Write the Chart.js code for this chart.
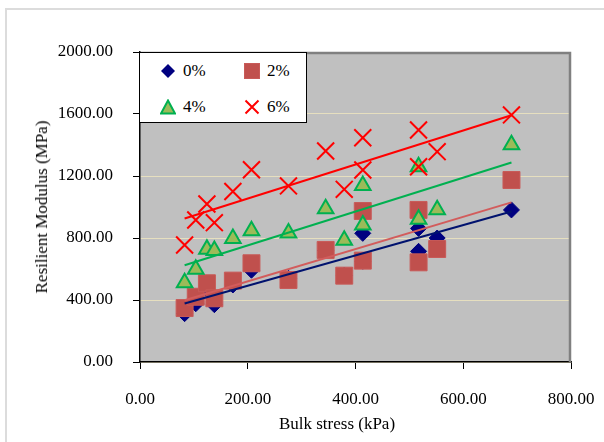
<!DOCTYPE html>
<html>
<head>
<meta charset="utf-8">
<script src="https://cdn.jsdelivr.net/npm/chart.js@4/dist/chart.umd.min.js"></script>
<style>
  html, body { margin: 0; padding: 0; background: #fff; }
  #wrap { position: relative; width: 604px; height: 442px; overflow: hidden; font-family: "Liberation Serif", "Times New Roman", serif; }
  #frame { position: absolute; left: 5px; top: 8px; width: 620px; height: 460px; border-left: 2px solid #dcdcdc; border-top: 2px solid #dcdcdc; }
  canvas { position: absolute; left: 0; top: 0; }
  .ttl { position: absolute; font-family: "Liberation Serif", serif; font-size: 17px; color: #000; white-space: nowrap; }
  #legend { position: absolute; left: 139px; top: 52px; width: 168px; height: 71px; background: #fff; border: 1px solid #000; box-sizing: border-box; }
  .li { position: absolute; font-family: "Liberation Serif", serif; font-size: 17px; line-height: 17px; color: #000; }
  .li svg { position: absolute; }
</style>
</head>
<body>
<div id="wrap">
  <div id="frame"></div>
  <canvas id="c" width="604" height="442"></canvas>
  <div class="ttl" id="ytitle" style="left:42px; top:207px; transform: translate(-50%,-50%) rotate(-90deg);">Resilient Modulus (MPa)</div>
  <div class="ttl" id="xtitle" style="left:337px; top:424px; transform: translate(-50%,-50%);">Bulk stress (kPa)</div>
  <div id="legend"></div>
</div>
<script>
// ---- data ----
const bulkStress = [82.8, 103.5, 124.2, 138.0, 172.4, 206.9, 275.6, 344.6, 379.1, 413.5, 413.6, 517.0, 517.1, 551.6, 689.5];
const mr0 = [312, 376, 470, 370, 497, 592, 540, 720, 560, 830, 650, 862, 714, 800, 981];
const mr2 = [348, 421, 508, 411, 525, 637, 529, 723, 557, 974, 654, 981, 643, 729, 1174];
const mr4 = [512, 598, 727, 720, 796, 847, 832, 989, 785, 1138, 884, 1260, 921, 983, 1402];
const mr6 = [755, 916, 1019, 899, 1100, 1240, 1136, 1361, 1114, 1447, 1239, 1497, 1260, 1357, 1594];
const seriesLabels = ["0%", "2%", "4%", "6%"];
const yTicks = [0, 400, 800, 1200, 1600, 2000];
const xTicks = [0, 200, 400, 600, 800];

function pts(xs, ys) { return xs.map((x, i) => ({ x: x, y: ys[i] })); }
function trend(xs, ys) {
  const n = xs.length;
  const mx = xs.reduce((a, b) => a + b, 0) / n;
  const my = ys.reduce((a, b) => a + b, 0) / n;
  let sxy = 0, sxx = 0;
  for (let i = 0; i < n; i++) { sxy += (xs[i] - mx) * (ys[i] - my); sxx += (xs[i] - mx) ** 2; }
  const b = sxy / sxx, a = my - b * mx;
  const x0 = Math.min(...xs), x1 = Math.max(...xs);
  return [{ x: x0, y: a + b * x0 }, { x: x1, y: a + b * x1 }];
}

const FONT = { family: '"Liberation Serif", serif', size: 17 };

const plotBg = {
  id: 'plotBg',
  beforeDraw(chart) {
    const { ctx, chartArea: a } = chart;
    ctx.save();
    ctx.fillStyle = '#c0c0c0';
    ctx.fillRect(a.left, a.top, a.right - a.left, a.bottom - a.top);
    ctx.restore();
  },
  beforeDatasetsDraw(chart) {
    const { ctx, chartArea: a } = chart;
    ctx.save();
    ctx.strokeStyle = '#808080';
    ctx.lineWidth = 2.5;
    ctx.beginPath();
    ctx.moveTo(a.left, a.top + 1);
    ctx.lineTo(a.right - 1, a.top + 1);
    ctx.lineTo(a.right - 1, a.bottom);
    ctx.stroke();
    ctx.restore();
  }
};

new Chart(document.getElementById('c'), {
  type: 'scatter',
  data: {
    datasets: [
      { type: 'line', label: 't0', data: trend(bulkStress, mr0), borderColor: '#00126e', borderWidth: 2, pointRadius: 0, fill: false, order: 1 },
      { type: 'line', label: 't2', data: trend(bulkStress, mr2), borderColor: '#d25c5c', borderWidth: 2, pointRadius: 0, fill: false, order: 2 },
      { type: 'line', label: 't4', data: trend(bulkStress, mr4), borderColor: '#00b050', borderWidth: 2, pointRadius: 0, fill: false, order: 3 },
      { type: 'line', label: 't6', data: trend(bulkStress, mr6), borderColor: '#ff0000', borderWidth: 2, pointRadius: 0, fill: false, order: 4 },
      { label: seriesLabels[3], data: pts(bulkStress, mr6), pointStyle: 'crossRot', pointRadius: 12, borderColor: '#ff0000', backgroundColor: '#ff0000', pointBorderWidth: 2, order: 5 },
      { label: seriesLabels[2], data: pts(bulkStress, mr4), pointStyle: 'triangle', pointRadius: 9, borderColor: '#00b050', backgroundColor: '#9bbb59', pointBorderWidth: 2, order: 6 },
      { label: seriesLabels[1], data: pts(bulkStress, mr2), pointStyle: 'rect', pointRadius: 12, borderColor: '#c85a58', backgroundColor: '#c0504d', pointBorderWidth: 1, order: 7 },
      { label: seriesLabels[0], data: pts(bulkStress, mr0), pointStyle: 'rectRot', pointRadius: 8, borderColor: '#000080', backgroundColor: '#000080', pointBorderWidth: 1, order: 8 }
    ]
  },
  options: {
    responsive: false,
    animation: false,
    events: [],
    layout: { padding: { left: 0, top: 52, right: 33, bottom: 0 } },
    plugins: { legend: { display: false }, tooltip: { enabled: false } },
    scales: {
      x: {
        type: 'linear', min: 0, max: 800,
        afterBuildTicks: s => { s.ticks = xTicks.map(v => ({ value: v })); },
        afterFit: s => { s.height = 80; s.paddingLeft = 0; s.paddingRight = 0; },
        ticks: { font: FONT, color: '#000', padding: 20, maxRotation: 0, callback: v => v.toFixed(2) },
        grid: { drawOnChartArea: false, tickLength: 7, tickColor: '#000', tickWidth: 1 },
        border: { color: '#000', width: 1.5 }
      },
      y: {
        type: 'linear', min: 0, max: 2000,
        afterBuildTicks: s => { s.ticks = yTicks.map(v => ({ value: v })); },
        afterFit: s => { s.width = 140; s.paddingTop = 0; s.paddingBottom = 0; },
        ticks: { font: FONT, color: '#000', padding: 20, callback: v => v.toFixed(2) },
        grid: { color: '#e6dfbf', lineWidth: 1, tickLength: 7, tickColor: '#000', tickWidth: 1 },
        border: { color: '#000', width: 1.5 }
      }
    }
  },
  plugins: [plotBg]
});

// ---- legend (HTML overlay, real text) ----
const legendItems = [
  { label: seriesLabels[0], cx: 28, cy: 18, svg: '<polygon points="8,1 15,8 8,15 1,8" fill="#000080"/>' },
  { label: seriesLabels[1], cx: 112, cy: 18, svg: '<rect x="0.5" y="0.5" width="15" height="15" fill="#c0504d" stroke="#c85a58"/>' },
  { label: seriesLabels[2], cx: 28, cy: 54, svg: '<polygon points="8,1.5 15,14.5 1,14.5" fill="#9bbb59" stroke="#00b050" stroke-width="2"/>' },
  { label: seriesLabels[3], cx: 112, cy: 54, svg: '<path d="M1.5 1.5 L14.5 14.5 M14.5 1.5 L1.5 14.5" stroke="#ff0000" stroke-width="2"/>' }
];
const lg = document.getElementById('legend');
legendItems.forEach(it => {
  const m = document.createElement('div');
  m.className = 'li';
  m.style.left = (it.cx - 8) + 'px';
  m.style.top = (it.cy - 8) + 'px';
  m.innerHTML = '<svg width="16" height="16" viewBox="0 0 16 16">' + it.svg + '</svg>';
  lg.appendChild(m);
  const t = document.createElement('div');
  t.className = 'li';
  t.style.left = (it.cx + 15) + 'px';
  t.style.top = (it.cy - 9) + 'px';
  t.textContent = it.label;
  lg.appendChild(t);
});
</script>
</body>
</html>
